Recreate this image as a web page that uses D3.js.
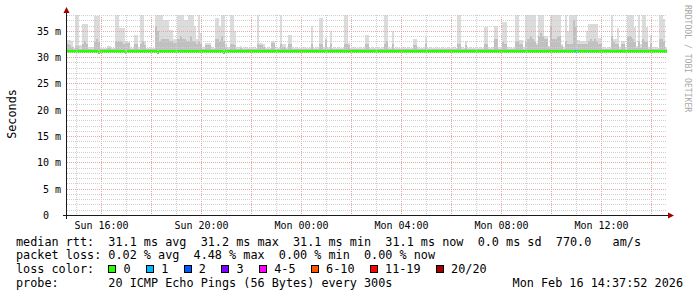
<!DOCTYPE html>
<html>
<head>
<meta charset="utf-8">
<title>smokeping</title>
<script src="https://cdn.jsdelivr.net/npm/d3@7"></script>
<style>
  body { margin: 0; background: #fff; }
  svg { display: block; }
  text { font-family: "DejaVu Sans Mono", monospace; fill: #000; white-space: pre; }
</style>
</head>
<body>
<svg id="chart" width="697" height="297"></svg>
<script>
// 288 steps of 300s, 24h ending Mon Feb 16 14:37:52 2026
var endTime = new Date(Date.UTC(2026, 1, 16, 14, 37, 52));
var stepSec = 300;

// median rtt per step (ms)
var medianRtt = [
  31.1,31.1,31.1,31.2,31.2,31.1,31.1,31.1,31.2,31.2,31.2,31.1,31.1,31.1,31.1,31.0,31.1,31.1,31.1,31.1,31.2,31.2,31.1,31.1,
  31.1,31.1,31.1,31.1,31.0,31.1,31.1,31.2,31.2,31.1,31.1,31.1,31.1,31.1,31.2,31.1,31.1,31.1,31.1,31.0,31.1,31.1,31.1,31.1,
  31.1,31.2,31.1,31.1,31.1,31.1,31.1,31.1,31.2,31.1,31.1,31.1,31.1,31.1,31.1,31.1,31.2,31.1,31.1,31.1,31.1,31.1,31.2,31.1,
  31.1,31.1,31.1,31.0,31.1,31.1,31.1,31.1,31.1,31.1,31.1,31.1,31.1,31.1,31.1,31.2,31.1,31.1,31.1,31.1,31.1,31.1,31.1,31.1,
  31.1,31.1,31.1,31.1,31.1,31.1,31.1,31.1,31.1,31.1,31.2,31.1,31.1,31.1,31.1,31.1,31.1,31.1,31.1,31.1,31.1,31.1,31.1,31.1,
  31.1,31.1,31.1,31.2,31.1,31.1,31.1,31.1,31.1,31.1,31.1,31.1,31.1,31.1,31.1,31.1,31.1,31.2,31.1,31.1,31.1,31.1,31.1,31.1,
  31.1,31.1,31.1,31.1,31.1,31.1,31.1,31.1,31.1,31.1,31.1,31.1,31.1,31.1,31.1,31.1,31.1,31.1,31.1,31.1,31.1,31.1,31.1,31.1,
  31.1,31.1,31.1,31.1,31.1,31.1,31.1,31.1,31.1,31.1,31.2,31.1,31.1,31.1,31.1,31.1,31.1,31.1,31.1,31.1,31.1,31.1,31.1,31.1,
  31.1,31.1,31.2,31.1,31.1,31.1,31.1,31.1,31.1,31.1,31.1,31.1,31.1,31.1,31.1,31.1,31.1,31.1,31.1,31.1,31.2,31.1,31.1,31.1,
  31.1,31.1,31.2,31.1,31.1,31.1,31.1,31.2,31.1,31.1,31.1,31.1,31.2,31.1,31.1,31.1,31.1,31.1,31.2,31.1,31.1,31.1,31.1,31.1,
  31.1,31.1,31.1,31.1,31.2,31.1,31.2,31.1,31.1,31.1,31.2,31.1,31.1,31.1,31.1,31.1,31.1,31.2,31.1,31.1,31.1,31.1,31.2,31.1,
  31.1,31.1,31.2,31.1,31.1,31.1,31.1,31.1,31.2,31.1,31.1,31.1,31.2,31.1,31.1,31.1,31.1,31.1,31.1,31.2,31.1,31.1,31.1,31.1
];

// highest ping per step (top of the smoke, ms)
var maxRtt = [
  33.3,33.3,33.0,31.8,38,38,32.3,36.2,36.2,36.2,32.0,31.9,32.0,37.8,37.8,37.8,31.9,31.8,31.8,32.2,32.2,31.8,31.8,38,
  38,35.5,35.5,35.5,32.8,32.8,31.9,31.8,34.2,34.2,31.9,38,38,33,31.8,31.8,32.0,31.8,38,38,38,38,37,37,
  37,35.2,35.2,33.5,33.5,38,38,38,37,37,38,38,38,36,33.5,38,34.6,31.9,32.7,32.7,32.7,31.9,31.8,37.5,
  37.5,36,38,38,32.5,31.9,38,38,35,32.0,31.9,32.1,31.8,31.9,32.0,31.8,31.9,32.0,31.8,38,32.7,32.7,32.5,31.8,
  31.9,31.8,33,33,31.9,31.8,38,32.4,32.4,31.8,34.2,34.2,31.9,31.8,32.0,31.8,31.8,31.9,31.8,31.8,31.9,36,31.8,31.9,
  31.9,37.4,37.4,32.0,33.6,31.9,35,31.8,31.9,31.8,32.0,31.8,31.8,38,38,32.7,31.8,31.9,31.8,31.8,32.0,31.8,31.9,34.2,
  34.2,31.8,31.9,31.8,31.8,32.0,31.8,31.9,38,38,32.0,31.8,35,31.8,31.9,31.8,31.8,31.9,31.8,32.0,31.8,31.8,33.5,33.5,
  31.9,31.8,31.8,31.9,33.8,31.8,31.9,31.8,31.8,32.0,31.8,31.8,31.9,31.8,31.8,31.9,31.8,32.0,31.8,38,38,31.9,31.8,33,
  31.8,31.9,31.8,31.8,32.0,31.8,31.9,31.8,35.7,35.7,31.9,31.8,32.0,36,36,32.0,31.9,36.7,36.7,31.9,32.0,31.8,31.9,38,
  38,33.2,33.2,32.0,38,38,38,38,38,32.7,38,38,38,34,34,32.2,38,38,38,38,38,32.5,32.0,38,
  35,38,38,38,38,33.2,33,33,33,35,36.2,36.2,36.2,36.2,36.2,33.6,33.6,31.9,31.8,32.0,31.9,38,33.5,33.5,
  35.5,32.0,33,33,32.0,38,38,38,35.7,32.2,38,32.5,38,38,35.7,32.0,34.2,31.9,32.0,31.8,38,38,37.2,32.0
];

// upper quartile of pings per step (top of the darker smoke, ms)
var upperRtt = [
  32.5,32.3,32.0,31.5,32.2,32.2,31.6,32.5,33.0,32.5,31.6,31.5,31.6,32.8,33.5,32.8,31.5,31.5,31.5,31.7,31.7,31.5,31.5,33.0,
  33.0,33.0,32.8,32.5,32.6,32.6,31.5,31.5,32.5,32.5,31.5,32.5,33.0,32.3,31.5,31.5,31.6,31.5,36.0,35.0,33.0,33.5,33.5,33.5,
  33.5,33.0,33.0,32.6,32.6,33.5,34.0,33.5,33.5,33.0,33.0,34.0,33.0,33.0,32.5,33.0,32.5,31.5,32.3,32.3,32.3,31.5,31.5,33.5,
  33.5,33.0,34.0,33.0,32.0,31.5,32.5,32.5,32.3,31.6,31.5,31.7,31.5,31.6,31.6,31.5,31.6,31.6,31.5,32.5,32.3,32.3,32.0,31.5,
  31.6,31.5,32.6,32.6,31.5,31.5,32.5,31.9,31.9,31.5,32.5,32.5,31.6,31.5,31.6,31.5,31.5,31.6,31.5,31.5,31.6,32.5,31.5,31.6,
  31.6,32.5,32.5,31.6,33.2,31.6,32.5,31.5,31.6,31.5,31.6,31.5,31.5,32.5,32.5,32.3,31.5,31.6,31.5,31.5,31.6,31.5,31.6,32.5,
  32.5,31.5,31.6,31.5,31.5,31.6,31.5,31.6,32.5,33.0,31.6,31.5,32.5,31.5,31.6,31.5,31.5,31.6,31.5,31.6,31.5,31.5,32.3,32.3,
  31.6,31.5,31.5,31.6,32.5,31.5,31.6,31.5,31.5,31.6,31.5,31.5,31.6,31.5,31.5,31.6,31.5,31.6,31.5,32.5,32.5,31.6,31.5,32.3,
  31.5,31.6,31.5,31.5,31.6,31.5,31.6,31.5,32.5,32.5,31.6,31.5,31.6,33.5,33.5,31.6,31.6,32.8,32.5,31.6,31.6,31.5,31.6,33.0,
  33.0,32.5,32.5,31.6,33.0,33.5,34.0,33.5,33.0,32.3,34.0,34.5,34.0,33.5,33.5,32.0,36.0,33.5,33.5,34.0,34.0,32.2,31.6,33.0,
  32.5,32.5,32.5,37.0,36.0,32.5,32.5,32.5,32.5,32.5,33.0,33.5,33.0,33.5,33.0,32.5,32.5,31.6,31.5,31.6,31.6,34.0,32.8,32.5,
  32.5,31.6,32.5,32.5,31.6,34.0,34.0,33.5,32.8,31.8,33.0,31.8,33.5,33.0,32.8,31.6,32.5,31.5,31.6,31.5,33.5,33.5,33.0,31.6
];

// lost pings per step (of 20)
var lossCount = [
  0,0,0,0,0,0,0,0,0,0,0,0,0,0,0,0,0,0,0,0,0,0,0,0,
  0,0,0,0,0,0,0,0,0,0,0,0,0,0,0,0,0,0,0,0,0,0,0,0,
  0,0,0,0,0,0,0,0,0,0,0,0,0,0,0,0,0,0,0,0,0,0,0,0,
  0,0,0,0,0,0,0,0,0,0,0,0,0,0,0,0,0,0,0,0,0,0,0,0,
  0,0,0,0,0,0,0,0,0,0,0,0,0,0,0,0,0,0,0,0,0,0,0,0,
  0,0,0,0,0,0,0,0,0,0,0,0,0,0,0,0,0,0,0,0,0,0,0,0,
  0,0,0,0,0,0,0,0,0,0,0,0,0,0,0,0,0,0,0,0,0,0,0,0,
  0,0,0,0,0,0,0,0,0,0,0,0,0,0,0,0,0,0,0,0,0,0,0,0,
  0,0,0,0,0,0,0,0,0,0,0,0,0,0,0,0,0,0,0,0,0,0,0,0,
  0,0,0,0,0,0,0,0,0,0,0,0,0,0,0,0,0,0,0,0,0,0,0,0,
  0,0,0,0,1,0,0,0,0,0,0,0,0,0,0,0,0,0,0,0,0,0,0,0,
  0,0,0,0,0,0,0,0,0,0,0,0,0,0,0,0,0,0,0,0,0,0,0,0
];

var yTickValues = [0, 5, 10, 15, 20, 25, 30, 35];
var yTickLabels = ["0  ", "5 m", "10 m", "15 m", "20 m", "25 m", "30 m", "35 m"];
var xTickTimes = ["2026-02-15T16:00:00Z", "2026-02-15T20:00:00Z", "2026-02-16T00:00:00Z",
                  "2026-02-16T04:00:00Z", "2026-02-16T08:00:00Z", "2026-02-16T12:00:00Z"];
var xTickLabels = ["Sun 16:00", "Sun 20:00", "Mon 00:00", "Mon 04:00", "Mon 08:00", "Mon 12:00"];

var lossLabels = ["0", "1", "2", "3", "4-5", "6-10", "11-19", "20/20"];
var lossColors = ["#26ff00", "#00b8ff", "#0059ff", "#7e00ff", "#ff00ff", "#ff5500", "#ff0000", "#a10000"];
var lossUpper  = [0, 1, 2, 3, 5, 10, 19, 20];

var legendLines = [
  "median rtt:  31.1 ms avg  31.2 ms max  31.1 ms min  31.1 ms now  0.0 ms sd  770.0   am/s",
  "packet loss: 0.02 % avg  4.48 % max  0.00 % min  0.00 % now",
  "loss color:",
  "probe:       20 ICMP Echo Pings (56 Bytes) every 300s"
];
var stampText = "Mon Feb 16 14:37:52 2026";

var svg = d3.select("#chart");
var plotLeft = 67, plotRight = 667, plotTop = 15, plotBottom = 215;
var startTime = new Date(+endTime - 86400 * 1000);

var x = d3.scaleUtc().domain([startTime, endTime]).range([plotLeft, plotRight]);
var y = d3.scaleLinear().domain([0, 38]).range([plotBottom, plotTop]);

function stepTime(i) { return new Date(+startTime + i * stepSec * 1000); }
function px(i) { return Math.round(x(stepTime(i))); }

svg.append("rect").attr("width", 697).attr("height", 297).attr("fill", "#fff");

var plot = svg.append("g").attr("shape-rendering", "crispEdges");

// smoke
plot.selectAll(".smoke").data(maxRtt).enter().append("rect")
    .attr("x", function(d, i) { return px(i); })
    .attr("width", function(d, i) { return px(i + 1) - px(i); })
    .attr("y", function(d) { return Math.round(y(d)); })
    .attr("height", function(d, i) { return Math.max(0, Math.round(y(medianRtt[i])) - Math.round(y(d))); })
    .attr("fill", "#dcdcdc");

plot.selectAll(".smoke2").data(upperRtt).enter().append("rect")
    .attr("x", function(d, i) { return px(i); })
    .attr("width", function(d, i) { return px(i + 1) - px(i); })
    .attr("y", function(d) { return Math.round(y(d)); })
    .attr("height", function(d, i) { return Math.max(0, Math.round(y(medianRtt[i])) - Math.round(y(d))); })
    .attr("fill", "#c0c0c0");

// grid
var grid = svg.append("g").attr("shape-rendering", "crispEdges");
var hourTicks = d3.utcHour.every(1).range(startTime, endTime);
grid.selectAll(".vg").data(hourTicks).enter().append("line")
    .attr("x1", function(d) { return Math.round(x(d)) + 0.5; })
    .attr("x2", function(d) { return Math.round(x(d)) + 0.5; })
    .attr("y1", plotTop).attr("y2", plotBottom)
    .attr("stroke", function(d) { return d.getUTCHours() % 2 === 0 ? "#eaa4a4" : "#cfcfcf"; })
    .attr("stroke-dasharray", "1,1");

var msTicks = d3.range(1, 39);
grid.selectAll(".hg").data(msTicks).enter().append("line")
    .attr("x1", plotLeft).attr("x2", plotRight)
    .attr("y1", function(d) { return Math.round(y(d)) + 0.5; })
    .attr("y2", function(d) { return Math.round(y(d)) + 0.5; })
    .attr("stroke", function(d) { return d % 5 === 0 ? "#eaa4a4" : "#cfcfcf"; })
    .attr("stroke-dasharray", "1,1");

// median line coloured by loss
function lossColor(n) {
  for (var k = 0; k < lossUpper.length; k++) if (n <= lossUpper[k]) return lossColors[k];
  return lossColors[lossColors.length - 1];
}
plot.selectAll(".med").data(medianRtt).enter().append("rect")
    .attr("x", function(d, i) { return px(i); })
    .attr("width", function(d, i) { return px(i + 1) - px(i); })
    .attr("y", function(d) { return Math.round(y(d)) - 1; })
    .attr("height", 3)
    .attr("fill", function(d, i) { return lossColor(lossCount[i]); });

// axes
var axis = svg.append("g").attr("shape-rendering", "crispEdges");
axis.append("line").attr("x1", 63).attr("x2", 670).attr("y1", plotBottom + 0.5).attr("y2", plotBottom + 0.5)
    .attr("stroke", "#1a1a1a");
axis.append("line").attr("x1", plotLeft - 0.5).attr("x2", plotLeft - 0.5).attr("y1", 219).attr("y2", 12)
    .attr("stroke", "#1a1a1a");
svg.append("path").attr("d", "M668,212.5L674,215.5L668,218.5Z").attr("fill", "#a00000");
svg.append("path").attr("d", "M63.5,13L66.5,7L69.5,13Z").attr("fill", "#a00000");

svg.selectAll(".ylab").data(yTickValues).enter().append("text")
    .attr("x", 61)
    .attr("y", function(d) { return Math.round(y(d)) + 0.5; })
    .attr("dy", "0.35em")
    .attr("text-anchor", "end")
    .style("font-size", "10px")
    .text(function(d, i) { return yTickLabels[i]; });

svg.selectAll(".xlab").data(xTickTimes).enter().append("text")
    .attr("x", function(d) { return Math.round(x(new Date(d))) + 0.5; })
    .attr("y", 229)
    .attr("text-anchor", "middle")
    .style("font-size", "10px")
    .text(function(d, i) { return xTickLabels[i]; });

svg.append("text")
    .attr("transform", "translate(15.5,114) rotate(-90)")
    .attr("text-anchor", "middle")
    .style("font-size", "11.8px")
    .text("Seconds");

svg.append("text")
    .attr("transform", "translate(685,5) rotate(90)")
    .style("font-size", "8.1px")
    .style("fill", "#a8a8a8")
    .text("RRDTOOL / TOBI OETIKER");

// legend
var charW = 7.09, lineY = [245.5, 259.4, 273.3, 287.2];
svg.selectAll(".leg").data(legendLines).enter().append("text")
    .attr("x", 16)
    .attr("y", function(d, i) { return lineY[i]; })
    .style("font-size", "11.8px")
    .text(function(d) { return d; });

svg.append("text")
    .attr("x", 683).attr("y", lineY[3])
    .attr("text-anchor", "end")
    .style("font-size", "11.8px")
    .text(stampText);

var bx = 16 + 13 * charW;
lossLabels.forEach(function(lab, k) {
  svg.append("rect")
      .attr("x", Math.round(bx) + 0.5).attr("y", 265.5)
      .attr("width", 7).attr("height", 7)
      .attr("fill", lossColors[k]).attr("stroke", "#000")
      .attr("shape-rendering", "crispEdges");
  svg.append("text")
      .attr("x", bx + 15.3).attr("y", lineY[2])
      .style("font-size", "11.8px")
      .text(lab);
  bx = bx + 15.3 + lab.length * charW + 15.3;
});
</script>
</body>
</html>
